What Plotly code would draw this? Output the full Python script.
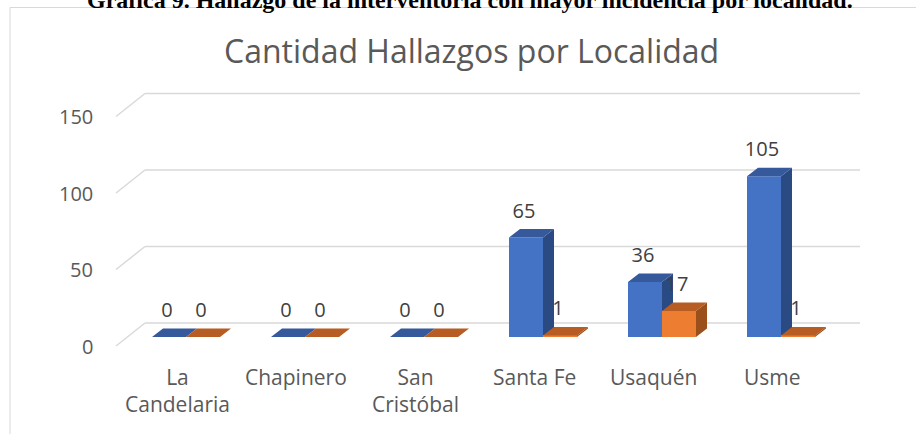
import plotly.graph_objects as go

# ---------------- data ----------------
categories = ["La Candelaria", "Chapinero", "San Cristóbal", "Santa Fe", "Usaquén", "Usme"]
cat_labels = ["La<br>Candelaria", "Chapinero", "San<br>Cristóbal", "Santa Fe", "Usaquén", "Usme"]
series_a = [0, 0, 0, 65, 36, 105]   # blue series
series_b = [0, 0, 0, 1, 17, 1]      # orange series
y_ticks = [0, 50, 100, 150]
title_text = "Cantidad Hallazgos por Localidad"
caption_text = "Gráfica 9. Hallazgo de la interventoría con mayor incidencia por localidad."

# ---------------- geometry / style ----------------
W, H = 916, 434
X0PX, XSTEP = 186, 119       # pixel of first group centre, pixels per category
Y0PX, YSCALE = 337, 1.53     # pixel of value 0 (bar base), pixels per unit

def xd(px):
    return (px - X0PX) / XSTEP

def yd_off(dpx):
    return dpx / YSCALE

BAR_W = 34 / XSTEP
DEP_X = 11 / XSTEP
DEP_Y = yd_off(8.5)
BACK_Y0 = yd_off(Y0PX - 323)
FRONT_Y0 = yd_off(Y0PX - 346)
GRID_FRONT_X = xd(116)
GRID_BACK_X = xd(145)
GRID_END_X = xd(860)

FONT = "Open Sans"
GRID_COL = "#d9d9d9"
BLUE = dict(front="#4472C4", top="#35599b", side="#2a4a84")
ORANGE = dict(front="#ED7D31", top="#b75c22", side="#9b4f1b")

idx = list(range(len(categories)))

def faces(values, off):
    tops_x, tops_y, side_x, side_y = [], [], [], []
    for i, v in zip(idx, values):
        x0 = i + off
        x1 = x0 + BAR_W
        tops_x += [x0, x1, x1 + DEP_X, x0 + DEP_X, x0, None]
        tops_y += [v, v, v + DEP_Y, v + DEP_Y, v, None]
        side_x += [x1, x1 + DEP_X, x1 + DEP_X, x1, x1, None]
        side_y += [0, DEP_Y, v + DEP_Y, v, 0, None]
    return tops_x, tops_y, side_x, side_y

fig = go.Figure()

def add_series(values, off, col, xa, ya):
    fig.add_trace(go.Bar(x=idx, y=values, width=BAR_W, offset=off,
                         marker=dict(color=col["front"], line=dict(width=0)),
                         xaxis=xa, yaxis=ya, hoverinfo="skip", showlegend=False))
    tx, ty, sx, sy = faces(values, off)
    fig.add_trace(go.Scatter(x=sx, y=sy, mode="lines", fill="toself",
                             fillcolor=col["side"], line=dict(width=0, color=col["side"]),
                             xaxis=xa, yaxis=ya, hoverinfo="skip", showlegend=False))
    fig.add_trace(go.Scatter(x=tx, y=ty, mode="lines", fill="toself",
                             fillcolor=col["top"], line=dict(width=0, color=col["top"]),
                             xaxis=xa, yaxis=ya, hoverinfo="skip", showlegend=False))

add_series(series_a, -BAR_W, BLUE, "x", "y")
add_series(series_b, 0, ORANGE, "x2", "y2")

# data labels
lab_x = [i - BAR_W / 2 - 2 / XSTEP for i in idx] + [i + BAR_W / 2 - 2 / XSTEP for i in idx]
lab_y = [v + yd_off(25) for v in series_a] + [v + yd_off(25) for v in series_b]
lab_t = [str(v) for v in series_a] + [str(v) for v in series_b]
fig.add_trace(go.Scatter(x=lab_x, y=lab_y, text=lab_t, mode="text",
                         textfont=dict(family=FONT, size=20, color="#404040"),
                         xaxis="x2", yaxis="y2", hoverinfo="skip", showlegend=False))

# gridlines (3D wall + floor edge)
shapes = []
for t in y_ticks:
    shapes.append(dict(type="line", xref="x", yref="y", layer="below",
                       x0=GRID_BACK_X, x1=GRID_END_X, y0=t + BACK_Y0, y1=t + BACK_Y0,
                       line=dict(color=GRID_COL, width=1.5)))
    shapes.append(dict(type="line", xref="x", yref="y", layer="below",
                       x0=GRID_FRONT_X, x1=GRID_BACK_X, y0=t + FRONT_Y0, y1=t + BACK_Y0,
                       line=dict(color=GRID_COL, width=1.5)))
# chart frame
shapes.append(dict(type="line", xref="paper", yref="paper", x0=10 / W, x1=10 / W,
                   y0=0, y1=1 - 7.5 / H, line=dict(color=GRID_COL, width=1)))
shapes.append(dict(type="line", xref="paper", yref="paper", x0=10 / W, x1=1,
                   y0=1 - 7.5 / H, y1=1 - 7.5 / H, line=dict(color=GRID_COL, width=1)))

annotations = []
for t in y_ticks:
    annotations.append(dict(xref="x", yref="y", x=xd(95), y=t + FRONT_Y0, text=str(t),
                            showarrow=False, xanchor="right", yanchor="middle",
                            font=dict(family=FONT, size=20, color="#595959")))
for i, lab in zip(idx, cat_labels):
    annotations.append(dict(xref="x", yref="y", x=i - 9 / XSTEP, y=yd_off(Y0PX - 361),
                            text=lab, showarrow=False, xanchor="center", yanchor="top",
                            font=dict(family=FONT, size=21, color="#595959")))
annotations.append(dict(xref="paper", yref="paper", x=471 / W, y=1 - 51 / H,
                        text=title_text, showarrow=False, xanchor="center", yanchor="middle",
                        font=dict(family=FONT, size=32, color="#595959")))
annotations.append(dict(xref="paper", yref="paper", x=470 / W, y=1 + 0.5 / H,
                        text="<b>" + caption_text + "</b>", showarrow=False,
                        xanchor="center", yanchor="middle",
                        font=dict(family="Liberation Serif", size=24, color="#000000")))

xr = [xd(0), xd(W)]
yr = [yd_off(Y0PX - H), yd_off(Y0PX)]
fig.update_layout(
    width=W, height=H, margin=dict(l=0, r=0, t=0, b=0),
    paper_bgcolor="white", plot_bgcolor="white",
    barmode="overlay", showlegend=False,
    xaxis=dict(range=xr, visible=False, fixedrange=True),
    yaxis=dict(range=yr, visible=False, fixedrange=True),
    xaxis2=dict(range=xr, visible=False, overlaying="x", fixedrange=True),
    yaxis2=dict(range=yr, visible=False, overlaying="y", fixedrange=True),
    shapes=shapes, annotations=annotations,
)

fig.write_html("out.html", config={"displayModeBar": False},
               post_script="document.body.style.margin='0';document.body.style.overflow='hidden';")
